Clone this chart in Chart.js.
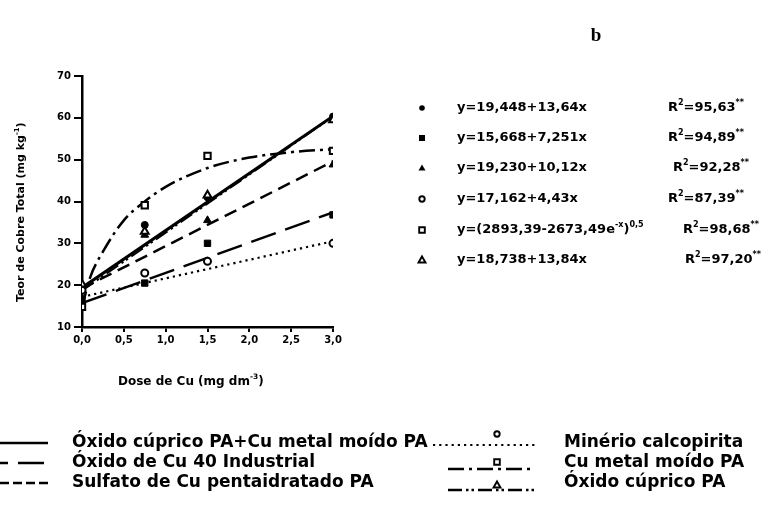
<!DOCTYPE html>
<html>
<head>
<meta charset="utf-8">
<script src="https://cdn.jsdelivr.net/npm/chart.js@4.4.0/dist/chart.umd.min.js"></script>
<style>
html, body { margin: 0; padding: 0; background: #fff; }
canvas { display: block; }
</style>
</head>
<body>
<canvas id="chart" width="774" height="507"></canvas>
<script>
// dose of Cu (mg dm-3) where samples were taken
const doses = [0, 0.75, 1.5, 3];

const ptOxidoMetal = [19.8, 34.4, 41.0, 60.3]; // filled circle
const ptOxido40 = [16.5, 20.5, 30.0, 36.8];    // filled square
const ptSulfato = [19.5, 32.0, 35.5, 48.8];    // filled triangle
const ptMinerio = [18.8, 22.9, 25.7, 30.0];    // open circle
const ptMetal = [14.8, 39.1, 50.9, 52.1];      // open square
const ptOxido = [20.2, 32.8, 41.5, 59.5];      // open triangle

// fitted straight lines, ends read at x=0 and x=3
const lineEnds = [0, 3];
const fitOxidoMetal = [19.4, 60.4];
const fitOxido40 = [15.7, 37.4];
const fitSulfato = [19.2, 49.6];
const fitMinerio = [17.2, 30.5];
const fitOxido = [18.7, 60.3];

// curved fit (Cu metal moido PA)
const curveX = [0, 0.1, 0.25, 0.5, 0.75, 1, 1.5, 2, 2.5, 3];
const curveMetal = [14.8, 22, 28, 35.5, 40, 43.5, 48, 50.5, 51.8, 52.5];

const xTickLabels = ["0,0", "0,5", "1,0", "1,5", "2,0", "2,5", "3,0"];

const equations = [
    [["y=19,448+13,64x"]],
    [["y=15,668+7,251x"]],
    [["y=19,230+10,12x"]],
    [["y=17,162+4,43x"]],
    [["y=(2893,39-2673,49e"], ["-x", 1], [")"], ["0,5", 1]],
    [["y=18,738+13,84x"]]
];
const r2Values = ["95,63", "94,89", "92,28", "87,39", "98,68", "97,20"];
const eqSymbols = ["circle", "rect", "triangle", "ocircle", "orect", "otriangle"];

const legendLeft = ["Óxido cúprico PA+Cu metal moído PA", "Óxido de Cu 40 Industrial", "Sulfato de Cu pentaidratado PA"];
const legendRight = ["Minério calcopirita", "Cu metal moído PA", "Óxido cúprico PA"];

const FONT = "'DejaVu Sans', sans-serif";

function pts(xs, ys) {
    return xs.map((x, i) => ({ x: x, y: ys[i] }));
}

function pointSet(data, style, filled) {
    return {
        data: pts(doses, data),
        pointStyle: style,
        pointRadius: style === "circle" ? 3.5 : 4.5,
        pointBackgroundColor: filled ? "#000" : "#fff",
        pointBorderColor: "#000",
        pointBorderWidth: filled ? 1 : 2,
        showLine: false
    };
}

function lineSet(xs, ys, dash, width, curved) {
    return {
        data: pts(xs, ys),
        showLine: true,
        pointRadius: 0,
        borderColor: "#000",
        borderWidth: width,
        borderDash: dash,
        tension: curved ? 0.4 : 0,
        cubicInterpolationMode: curved ? "monotone" : "default",
        fill: false
    };
}

function drawMarker(ctx, kind, x, y) {
    ctx.save();
    ctx.fillStyle = "#000";
    ctx.strokeStyle = "#000";
    ctx.lineWidth = 1.9;
    ctx.beginPath();
    if (kind === "circle") { ctx.arc(x, y, 2.8, 0, Math.PI * 2); ctx.fill(); }
    if (kind === "rect") { ctx.fillRect(x - 3, y - 3, 6, 6); }
    if (kind === "triangle") { ctx.moveTo(x, y - 3.5); ctx.lineTo(x + 3.5, y + 2.5); ctx.lineTo(x - 3.5, y + 2.5); ctx.closePath(); ctx.fill(); }
    if (kind === "ocircle") { ctx.arc(x, y, 2.7, 0, Math.PI * 2); ctx.stroke(); }
    if (kind === "orect") { ctx.rect(x - 2.8, y - 2.8, 5.6, 5.6); ctx.stroke(); }
    if (kind === "otriangle") { ctx.moveTo(x, y - 3.5); ctx.lineTo(x + 3.5, y + 2.5); ctx.lineTo(x - 3.5, y + 2.5); ctx.closePath(); ctx.stroke(); }
    ctx.restore();
}

// draws text pieces, pieces flagged 1 are superscripts
function drawRich(ctx, parts, x, y, size) {
    ctx.textBaseline = "middle";
    ctx.textAlign = "left";
    for (const p of parts) {
        const sup = p[1] === 1;
        const fs = sup ? size * 0.62 : size;
        ctx.font = "bold " + fs + "px " + FONT;
        ctx.fillText(p[0], x, sup ? y - size * 0.38 : y);
        x += ctx.measureText(p[0]).width;
    }
    return x;
}

function sampleLine(ctx, x1, x2, y, dash, width) {
    ctx.save();
    ctx.strokeStyle = "#000";
    ctx.lineWidth = width;
    ctx.setLineDash(dash);
    ctx.beginPath();
    ctx.moveTo(x1, y);
    ctx.lineTo(x2, y);
    ctx.stroke();
    ctx.restore();
}

const DASH_LONG = [26, 10];
const DASH_SHORT = [13, 7];
const DASH_DOT = [2.2, 4];
const DASH_DASHDOT = [16, 5, 3, 5];
const DASH_DASHDOTDOT = [14, 4, 2.5, 3, 2.5, 4];

const textPlugin = {
    id: "texts",
    afterDraw(chart) {
        const ctx = chart.ctx;
        ctx.save();
        ctx.fillStyle = "#000";

        // panel letter
        ctx.font = "bold 19px 'Liberation Serif', serif";
        ctx.textAlign = "center";
        ctx.textBaseline = "middle";
        ctx.fillText("b", 596, 36);

        // axis titles
        ctx.save();
        ctx.translate(21, 204);
        ctx.rotate(-Math.PI / 2);
        drawRich(ctx, [["Teor de Cobre Total (mg kg"], ["-1", 1], [")"]], -98, 0, 11);
        ctx.restore();
        drawRich(ctx, [["Dose de Cu (mg dm"], ["-3", 1], [")"]], 118, 382, 12);

        // regression equations
        const rowY = [108, 138, 168, 199, 230, 260];
        const r2X = [668, 668, 673, 668, 683, 685];
        for (let i = 0; i < equations.length; i++) {
            drawMarker(ctx, eqSymbols[i], 422, rowY[i]);
            drawRich(ctx, equations[i], 457, rowY[i], 13);
            drawRich(ctx, [["R"], ["2", 1], ["=" + r2Values[i]], ["**", 1]], r2X[i], rowY[i], 13);
        }

        // legend, left column
        const legY = [443, 463, 483];
        sampleLine(ctx, 0, 48, legY[0], [], 2.5);
        sampleLine(ctx, -18, 48, legY[1], DASH_LONG, 2.5);
        sampleLine(ctx, 0, 48, legY[2], [9, 4], 2.5);
        ctx.font = "bold 17px " + FONT;
        ctx.textBaseline = "middle";
        for (let i = 0; i < 3; i++) ctx.fillText(legendLeft[i], 72, legY[i]);

        // legend, right column
        sampleLine(ctx, 433, 535, legY[0] + 2, DASH_DOT, 2);
        sampleLine(ctx, 448, 535, legY[1] + 6, DASH_DASHDOT, 2.5);
        sampleLine(ctx, 448, 535, legY[2] + 7, DASH_DASHDOTDOT, 2.5);
        drawMarker(ctx, "ocircle", 497, legY[0] - 9);
        drawMarker(ctx, "orect", 497, legY[1] - 1);
        drawMarker(ctx, "otriangle", 497, legY[2] + 2);
        ctx.font = "bold 17px " + FONT;
        for (let i = 0; i < 3; i++) ctx.fillText(legendRight[i], 564, legY[i]);

        ctx.restore();
    }
};

new Chart(document.getElementById("chart"), {
    type: "scatter",
    data: {
        datasets: [
            pointSet(ptOxido, "triangle", false),
            pointSet(ptMetal, "rect", false),
            pointSet(ptMinerio, "circle", false),
            pointSet(ptOxidoMetal, "circle", true),
            pointSet(ptSulfato, "triangle", true),
            pointSet(ptOxido40, "rect", true),
            lineSet(lineEnds, fitOxidoMetal, [], 3, false),
            lineSet(lineEnds, fitOxido, DASH_DASHDOTDOT, 2, false),
            lineSet(lineEnds, fitOxido40, DASH_LONG, 2.5, false),
            lineSet(lineEnds, fitSulfato, DASH_SHORT, 2.5, false),
            lineSet(lineEnds, fitMinerio, DASH_DOT, 2.2, false),
            lineSet(curveX, curveMetal, DASH_DASHDOT, 2.5, true)
        ]
    },
    options: {
        responsive: false,
        animation: false,
        devicePixelRatio: 1,
        layout: { padding: { left: 0, top: 76, right: 441, bottom: 140 } },
        plugins: { legend: { display: false }, tooltip: { enabled: false } },
        scales: {
            x: {
                type: "linear",
                min: 0,
                max: 3,
                afterFit: (axis) => { axis.height = 40; },
                afterBuildTicks: (axis) => { axis.ticks = xTickLabels.map((_, i) => ({ value: i * 0.5 })); },
                ticks: {
                    color: "#000",
                    font: { family: FONT, size: 10, weight: "bold" },
                    padding: 2,
                    maxRotation: 0,
                    callback: (v, i) => xTickLabels[i]
                },
                grid: { drawOnChartArea: false, drawTicks: true, tickLength: 5, color: "#000", lineWidth: 2 },
                border: { display: true, color: "#000", width: 2.5 }
            },
            y: {
                type: "linear",
                min: 10,
                max: 70,
                afterFit: (axis) => { axis.width = 82; },
                ticks: {
                    stepSize: 10,
                    color: "#000",
                    font: { family: FONT, size: 10, weight: "bold" },
                    padding: 3
                },
                grid: { drawOnChartArea: false, drawTicks: true, tickLength: 8, color: "#000", lineWidth: 2 },
                border: { display: true, color: "#000", width: 2.5 }
            }
        }
    },
    plugins: [textPlugin]
});
</script>
</body>
</html>
